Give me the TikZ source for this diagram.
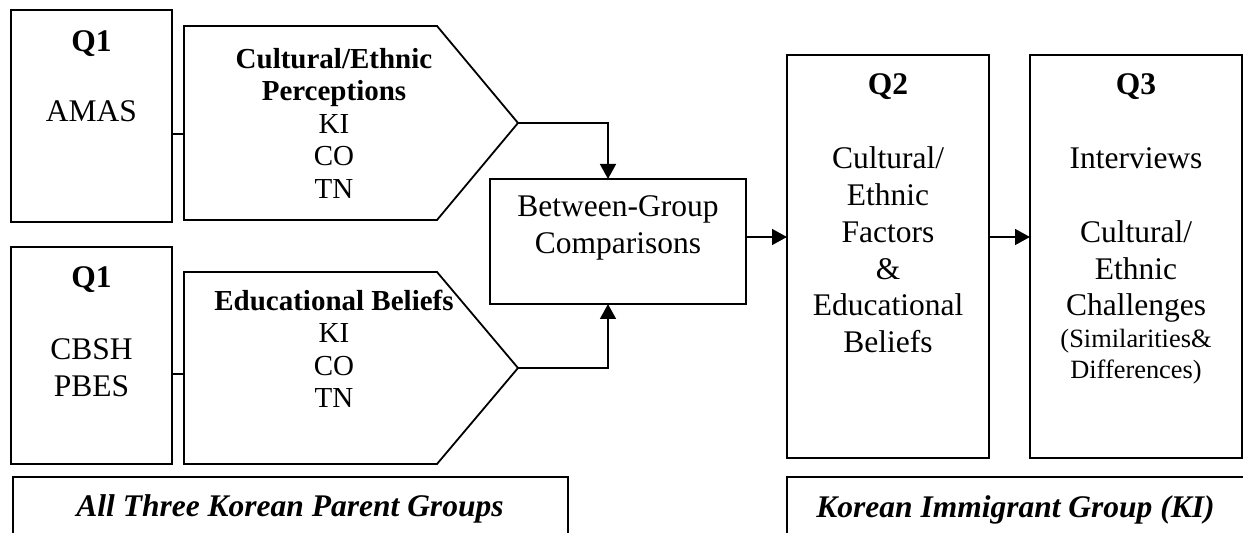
\documentclass[tikz,border=0pt]{standalone}
\usepackage{fontspec}
\setmainfont{Liberation Serif}
\usetikzlibrary{arrows.meta,calc}
\begin{document}
\begin{tikzpicture}[x=0.5pt,y=-0.5pt,
  box/.style={draw, line width=1pt, inner sep=0pt, outer sep=0pt, anchor=north west},
  pent/.style={draw, line width=0.9pt, line join=miter},
  conn/.style={line width=1pt},
  arr/.style={line width=1.4pt, -{Triangle[length=7.5pt,width=7.8pt]}},
  txt/.style={inner sep=0pt, anchor=base, align=center, font=\fontsize{15.75}{18.35}\selectfont},
  ptxt/.style={inner sep=0pt, anchor=base, align=center, font=\fontsize{14.5}{16.3}\selectfont},
  stxt/.style={inner sep=0pt, anchor=base, align=center, font=\fontsize{13.2}{15.2}\selectfont}]
\useasboundingbox (0,0) rectangle (1243,533);
\clip (0,0) rectangle (1243,533);
% boxes
\node[box, minimum width=80.5pt, minimum height=106pt] (q1a) at (11,10) {};
\node[box, minimum width=80.5pt, minimum height=108.5pt] (q1b) at (11,247) {};
\node[box, minimum width=128pt, minimum height=62.5pt] (bg) at (490,179) {};
\node[box, minimum width=101pt, minimum height=201.5pt] (q2) at (787,55) {};
\node[box, minimum width=105.75pt, minimum height=201.5pt] (q3) at (1030,55) {};
\node[box, minimum width=277.5pt, minimum height=50pt] (grpa) at (13,477) {};
\node[box, minimum width=250pt, minimum height=50pt] (grpb) at (787,477) {};
% pentagons
\draw[pent] (184,26) -- (437,26) -- (518,123) coordinate (p1tip) -- (437,220) -- (184,220) -- cycle;
\draw[pent] (184,272) -- (437,272) -- (518,368) coordinate (p2tip) -- (437,464) -- (184,464) -- cycle;
\coordinate (p1in) at (184,134);
\coordinate (p2in) at (184,374);
\coordinate (ya) at (0,237);
% connectors
\draw[conn] (q1a.east |- p1in) -- (p1in);
\draw[conn] (q1b.east |- p2in) -- (p2in);
\draw[arr] (p1tip) -| ([xshift=-5pt]bg.north);
\draw[arr] (p2tip) -| ([xshift=-5pt]bg.south);
\draw[arr] (bg.east |- ya) -- (q2.west |- ya);
\draw[arr] (q2.east |- ya) -- (q3.west |- ya);
% texts (anchor base = baseline of last line)
\node[txt] (q1ah) at (91.5,52) {\textbf{Q1}};
\node[txt] (q1at) at (91.5,122) {AMAS};
\node[ptxt] (p1t) at (334,198.5) {\textbf{Cultural/Ethnic}\\\textbf{Perceptions}\\KI\\CO\\TN};
\node[txt] (q1bh) at (91.5,288) {\textbf{Q1}};
\node[txt] (q1bt) at (91.5,396.7) {CBSH\\PBES};
\node[ptxt] (p2t) at (334,408) {\textbf{Educational Beliefs}\\KI\\CO\\TN};
\node[txt] (bgt) at (618,253.7) {Between-Group\\Comparisons};
\node[txt] (q2h) at (888,95) {\textbf{Q2}};
\node[txt] (q2t) at (888,352.5) {Cultural/\\Ethnic\\Factors\\\&\\Educational\\Beliefs};
\node[txt] (q3h) at (1136,95) {\textbf{Q3}};
\node[txt] (q3t) at (1136,315.8) {Interviews\\[18.35pt]Cultural/\\Ethnic\\Challenges};
\node[stxt] (q3s) at (1136,378.4) {(Similarities\&\\Differences)};
\node[txt] (grpat) at (290,517) {\textbf{\textit{All Three Korean Parent Groups}}};
\node[txt] (grpbt) at (1015.5,518) {\textbf{\textit{Korean Immigrant Group (KI)}}};
\end{tikzpicture}
\end{document}
